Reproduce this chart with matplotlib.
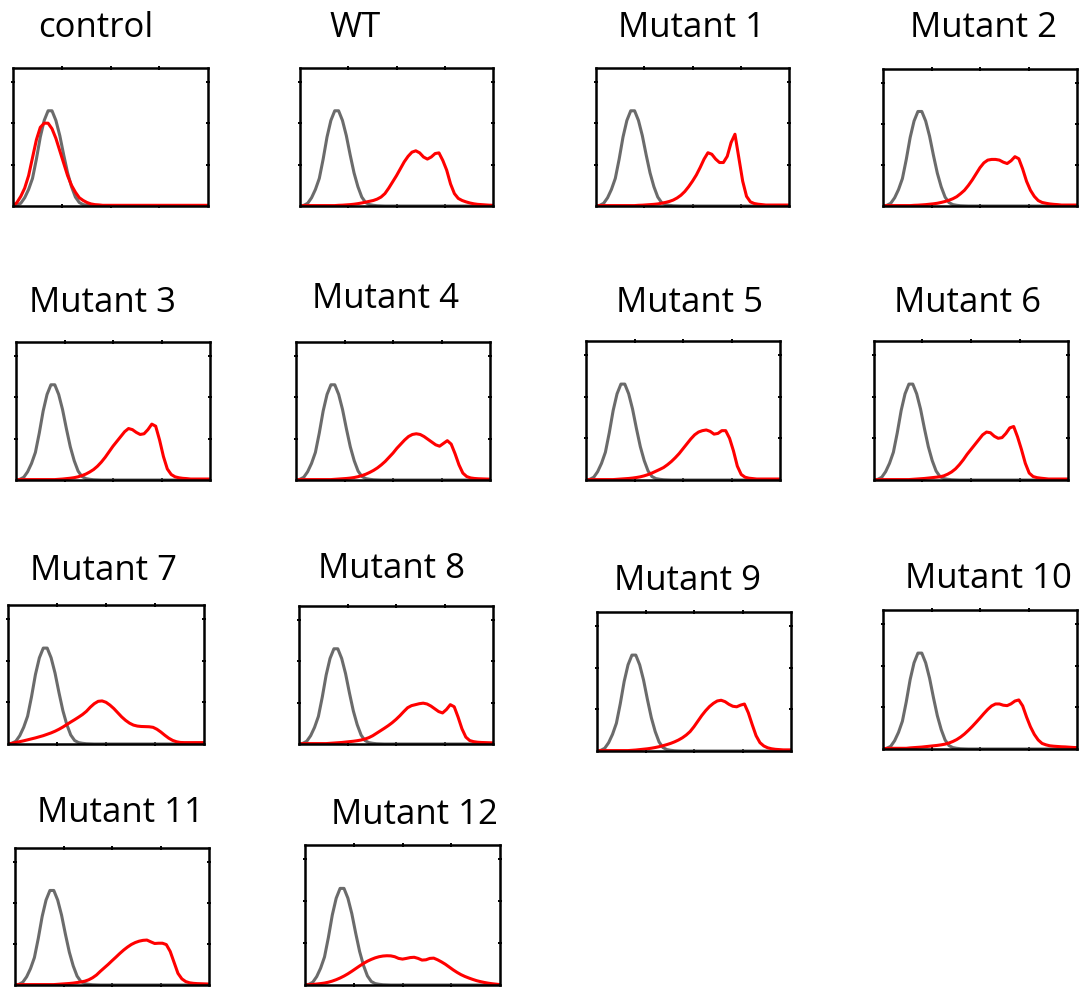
import matplotlib
matplotlib.use('Agg')
import matplotlib.pyplot as plt
import numpy as np

plt.rcParams['font.family'] = ['Open Sans', 'DejaVu Sans']

# fluorescence axis, fraction of full scale (0 .. 1, step 0.02)
x = np.linspace(0, 1, 51)

titles = ['control', 'WT', 'Mutant 1', 'Mutant 2',
          'Mutant 3', 'Mutant 4', 'Mutant 5', 'Mutant 6',
          'Mutant 7', 'Mutant 8', 'Mutant 9', 'Mutant 10',
          'Mutant 11', 'Mutant 12']

# unstained / negative control histogram (grey), % of axis height
gray = [0, 0.5, 2, 6, 12, 20, 34, 50, 62, 69, 69, 62, 51, 37, 24, 14, 6.5, 2.5, 1, 0.5,
        0.2, 0.1, 0, 0, 0, 0, 0, 0, 0, 0, 0, 0, 0, 0, 0, 0, 0, 0, 0, 0,
        0, 0, 0, 0, 0, 0, 0, 0, 0, 0, 0]

red_control = [0, 2.5, 7, 13, 22, 35, 48, 57, 60, 60, 56, 49, 40, 31, 22, 15, 10, 6, 4, 2.5,
               1.5, 1, 0.8, 0.5, 0.5, 0.5, 0.5, 0.5, 0.5, 0.5, 0.5, 0.5, 0.5, 0.5, 0.5, 0.5, 0.5, 0.5, 0.5, 0.5,
               0.5, 0.5, 0.5, 0.5, 0.5, 0.5, 0.5, 0.5, 0.5, 0.5, 0.5]
red_wt = [0, 0.3, 0.3, 0.3, 0.3, 0.3, 0.3, 0.3, 0.3, 0.3, 0.5, 0.6, 0.8, 1, 1.3, 1.7, 2.2, 2.8, 3.4, 4,
          5, 6.5, 9, 13, 17.5, 22, 27, 32, 36, 39, 40, 38.5, 35.5, 34, 35.5, 38, 38.5, 33, 26, 16,
          9, 5.5, 4, 3, 2.2, 1.6, 1.2, 1, 0.8, 0.6, 0.5]
red_m1 = [0, 0.3, 0.3, 0.3, 0.3, 0.3, 0.3, 0.3, 0.3, 0.3, 0.3, 0.5, 0.6, 0.8, 1, 1.2, 1.5, 2, 2.6, 3.3,
          4.3, 5.8, 7.8, 10.5, 14, 18, 22.5, 28, 34, 38.6, 37.5, 34, 31.5, 31.5, 36, 46, 52, 35, 18, 7,
          3, 1.8, 1.3, 1, 0.7, 0.7, 0.7, 0.7, 0.7, 0.7, 0.7]
red_m2 = [0, 0.3, 0.3, 0.3, 0.3, 0.3, 0.3, 0.3, 0.5, 0.6, 0.8, 1, 1.3, 1.6, 2, 2.6, 3.3, 4.2, 5.3, 6.8,
          9, 11.5, 15, 19, 23.5, 28, 31.5, 33.5, 34, 34, 33.5, 32, 31, 33, 36, 34.5, 27, 18, 11.5, 7,
          4, 2.6, 2, 1.5, 1.2, 1, 0.7, 0.7, 0.7, 0.7, 0.7]
red_m3 = [0, 0.3, 0.3, 0.3, 0.3, 0.3, 0.3, 0.3, 0.3, 0.3, 0.3, 0.5, 0.7, 1, 1.3, 1.7, 2.3, 3.2, 4.3, 5.8,
          7.6, 10, 13, 16.5, 20.5, 24.5, 28, 31.5, 35, 37.3, 36.5, 34.5, 33, 33.5, 36.5, 40.5, 39, 29, 17, 8,
          4, 2.3, 1.6, 1.2, 1, 0.7, 0.7, 0.7, 0.7, 0.7, 0.7]
red_m4 = [0, 0.3, 0.3, 0.3, 0.3, 0.3, 0.3, 0.3, 0.3, 0.3, 0.5, 0.7, 0.9, 1.1, 1.4, 1.8, 2.4, 3.2, 4.2, 5.5,
          7, 8.8, 11, 13.5, 16.5, 19.5, 23, 26, 29, 31.5, 33, 33.5, 33, 31.5, 29.5, 27.5, 25.5, 24.5, 26.5, 28.5,
          26, 19, 11, 5, 2.5, 1.5, 1.1, 0.9, 0.8, 0.7, 0.6]
red_m5 = [0, 0.3, 0.3, 0.3, 0.3, 0.3, 0.3, 0.3, 0.5, 0.7, 0.9, 1.1, 1.4, 1.8, 2.3, 3, 3.9, 5, 6.3, 7.6,
          9, 11, 13.3, 16, 19, 22.5, 26, 29.5, 32.5, 34.5, 35.5, 36, 35, 33, 33.5, 35.5, 35.5, 30, 21, 10,
          4, 2, 1.3, 1, 0.7, 0.7, 0.7, 0.7, 0.7, 0.7, 0.7]
red_m6 = [0, 0.3, 0.3, 0.3, 0.3, 0.3, 0.3, 0.3, 0.3, 0.3, 0.5, 0.7, 0.9, 1.1, 1.4, 1.7, 2, 2.3, 3, 4.2,
          5.8, 8, 11, 14.5, 18.5, 22, 25.5, 29, 32.5, 34.5, 34, 31.5, 30, 30.5, 33.5, 37.5, 38.5, 31, 22, 12,
          5, 2.5, 1.7, 1.3, 1, 0.7, 0.7, 0.7, 0.7, 0.7, 0.7]
red_m7 = [0, 0.5, 1.1, 1.7, 2.3, 3, 3.7, 4.4, 5.2, 6, 7, 8, 9.2, 10.6, 12.2, 14, 15.8, 17.5, 19.3, 21.2,
          23.5, 26.5, 29, 30.7, 31, 30, 28, 25.5, 22.5, 19.5, 17, 15, 13.6, 12.9, 12.6, 12.5, 12.4, 12, 10.6, 8.6,
          6.3, 4.2, 2.6, 1.6, 1.1, 1, 1, 1, 1, 1, 1]
red_m8 = [0, 0.3, 0.3, 0.3, 0.3, 0.3, 0.3, 0.3, 0.5, 0.7, 0.9, 1.1, 1.4, 1.7, 2, 2.4, 2.9, 3.6, 4.6, 6,
          7.8, 9.6, 11.4, 13.3, 15.4, 17.8, 20.5, 23.5, 26.3, 27.8, 28.5, 29.2, 29.6, 29, 27.5, 25.5, 23.5, 22.5, 25, 28.5,
          27, 19.5, 11, 5, 2.5, 1.7, 1.3, 1.1, 1, 0.9, 0.8]
red_m9 = [0, 0.3, 0.3, 0.3, 0.3, 0.3, 0.3, 0.3, 0.3, 0.5, 0.7, 1, 1.3, 1.6, 2, 2.5, 3.1, 3.8, 4.6, 5.5,
          6.6, 7.9, 9.5, 11.5, 14, 17.5, 21.5, 25.5, 29, 32, 34.3, 36, 36.5, 35.5, 33.6, 32.2, 31.8, 33, 33.8, 27.5,
          19, 11, 6, 3.6, 2.3, 1.6, 1.2, 1, 0.8, 0.8, 0.8]
red_m10 = [0, 0.5, 0.5, 0.5, 0.5, 0.5, 0.5, 0.8, 1, 1.2, 1.4, 1.7, 2, 2.3, 2.6, 3, 3.5, 4.3, 5.4, 6.8,
           8.6, 10.8, 13.4, 16.2, 19.2, 22.3, 25.5, 28.5, 31, 32.4, 32.4, 31.5, 31.2, 32.5, 34.5, 35.3, 31, 23, 16, 10.5,
           6.5, 4, 3, 2.3, 2, 1.8, 1.6, 1.5, 1.3, 1.1, 1]
red_m11 = [0, 0.3, 0.3, 0.3, 0.3, 0.3, 0.3, 0.3, 0.3, 0.3, 0.3, 0.5, 0.7, 0.9, 1.1, 1.4, 1.8, 2.2, 2.8, 3.8,
           5.3, 7.3, 10, 12.5, 15, 17.7, 20.3, 23, 25.5, 27.7, 29.6, 31, 32, 32.6, 32.8, 31.5, 30.3, 30.5, 30.5, 29.5,
           24.5, 16.5, 8.5, 4.5, 2.5, 1.6, 1.2, 1, 0.9, 0.8, 0.7]
red_m12 = [0, 0.2, 0.4, 0.7, 1, 1.4, 2, 2.8, 3.8, 5, 6.4, 8, 9.8, 11.7, 13.6, 15.4, 17, 18.3, 19.4, 20.2,
           20.7, 20.9, 20.8, 20.2, 19, 18.5, 19, 19.6, 19.8, 19, 17.8, 18, 19, 19.2, 18, 16.5, 14.8, 12.8, 10.8, 9,
           7.4, 6.1, 5, 4, 3.1, 2.4, 1.8, 1.3, 0.9, 0.6, 0.3]

reds = [red_control, red_wt, red_m1, red_m2, red_m3, red_m4, red_m5, red_m6,
        red_m7, red_m8, red_m9, red_m10, red_m11, red_m12]

# panel boxes in pixels: left, top, right, bottom ; title centre x and baseline y
boxes = [(13, 68, 208, 206), (300, 68, 493, 206), (596, 68, 789, 206), (883, 69, 1077, 206),
         (16, 342, 210, 480), (296, 342, 490, 480), (586, 341, 780, 480), (874, 341, 1068, 480),
         (8, 605, 204, 744), (299, 606, 493, 744), (597, 612, 791, 751), (883, 610, 1077, 749),
         (15, 848, 209, 985), (305, 845, 500, 985)]
title_pos = [(96, 37), (355, 37), (691, 37), (984, 37),
             (102, 312), (385, 308), (690, 312), (968, 312),
             (103, 580), (392, 578), (688, 590), (988, 588),
             (120, 822), (414, 824)]

W, H = 1081, 989
fig = plt.figure(figsize=(W / 100, H / 100), dpi=100)

for i in range(len(titles)):
    l, t, r, b = boxes[i]
    ax = fig.add_axes([l / W, 1 - b / H, (r - l) / W, (b - t) / H])
    ax.plot(x, gray, color='#6b6b6b', lw=2.2, solid_capstyle='round')
    ax.plot(x, reds[i], color='#ff0000', lw=2.2, solid_capstyle='round')
    ax.set_xlim(0, 1)
    ax.set_ylim(0, 100)
    ax.set_xticks([0.25, 0.5, 0.75])
    ax.set_yticks([30, 60, 90])
    ax.tick_params(direction='inout', length=3.5, width=1.4, top=True, right=True,
                   labelbottom=False, labelleft=False)
    for s in ax.spines.values():
        s.set_linewidth(1.8)
    tx, ty = title_pos[i]
    fig.text(tx / W, 1 - ty / H, titles[i], ha='center', va='baseline', fontsize=25)

fig.savefig('out.png', dpi=100)
